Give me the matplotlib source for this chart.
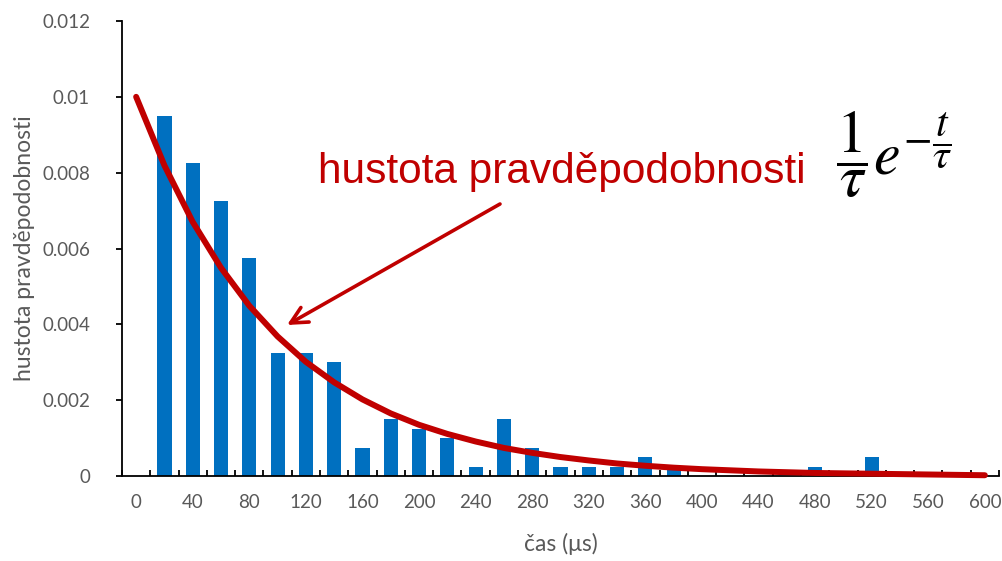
import numpy as np
import matplotlib.pyplot as plt
import matplotlib

matplotlib.rcParams['font.family'] = ['Lato', 'DejaVu Sans']

# data
cas = [20, 40, 60, 80, 100, 120, 140, 160, 180, 200, 220, 240, 260, 280,
       300, 320, 340, 360, 380, 480, 520]
hustota = [0.0095, 0.00825, 0.00725, 0.00575, 0.00325, 0.00325, 0.003,
           0.00075, 0.0015, 0.00125, 0.001, 0.00025, 0.0015, 0.00075,
           0.00025, 0.00025, 0.00025, 0.0005, 0.00025, 0.00025, 0.0005]

# exponential curve, read every 20 us
t_krivka = list(range(0, 601, 20))
p_krivka = [0.01, 0.00819, 0.0067, 0.00549, 0.00449, 0.00368, 0.00301,
            0.00247, 0.00202, 0.00165, 0.00135, 0.00111, 0.00091, 0.00074,
            0.00061, 0.0005, 0.00041, 0.00033, 0.00027, 0.00022, 0.00018,
            0.00015, 0.00012, 0.0001, 0.00008, 0.00007, 0.00006, 0.00005,
            0.00004, 0.00003, 0.00002]

x_labels = list(range(0, 601, 40))
y_ticks = [0, 0.002, 0.004, 0.006, 0.008, 0.01, 0.012]

seda = '#595959'
cervena = '#C00000'

fig = plt.figure(figsize=(10.02, 5.61), dpi=100)
ax = fig.add_axes([122/1002, 1 - 476/561, (999 - 122)/1002, (476 - 21)/561])
ax.spines['top'].set_visible(False)
ax.spines['right'].set_visible(False)
ax.spines['left'].set_linewidth(1.3)
ax.spines['bottom'].set_linewidth(1.3)

ax.bar(cas, hustota, width=10, color='#0070C0', zorder=2)
ax.plot(t_krivka, p_krivka, color=cervena, linewidth=4.3,
        solid_capstyle='round', zorder=3, clip_on=False)

ax.set_xlim(-10, 610)
ax.set_ylim(0, 0.012)

ax.set_xticks(x_labels)
ax.set_xticklabels([str(v) for v in x_labels])
ax.set_xticks(np.arange(-10, 611, 20), minor=True)
ax.tick_params(axis='x', which='major', length=0, pad=13,
               labelsize=13.5, labelcolor=seda)
ax.tick_params(axis='x', which='minor', direction='in', length=4.5,
               width=1.3)

ax.set_yticks(y_ticks)
ax.set_yticklabels([f'{v:g}' for v in y_ticks])
ax.tick_params(axis='y', direction='out', length=4, width=1.3, pad=19,
               labelsize=13.5, labelcolor=seda)

ax.set_xlabel('čas (μs)', fontsize=16.5, color=seda, labelpad=16)
ax.set_ylabel('hustota pravděpodobnosti', fontsize=16.5, color=seda,
              labelpad=5)

# popisek se sipkou
fig.text(318/1002, 1 - 183/561, 'hustota pravděpodobnosti',
         fontsize=30.5, color=cervena, family='Liberation Sans',
         va='baseline', ha='left')
ax.annotate('', xy=(287, 561 - 325), xytext=(500, 561 - 204),
            xycoords='figure pixels', textcoords='figure pixels',
            arrowprops=dict(arrowstyle='->', color=cervena, lw=2.6,
                            mutation_scale=30, shrinkA=0, shrinkB=0))

fig.text(836/1002, 1 - 154/561, r'$\dfrac{1}{\tau}e^{-\dfrac{t}{\tau}}$',
         fontsize=43, color='black', math_fontfamily='stix',
         va='center', ha='left')

plt.savefig('out.png', dpi=100)
